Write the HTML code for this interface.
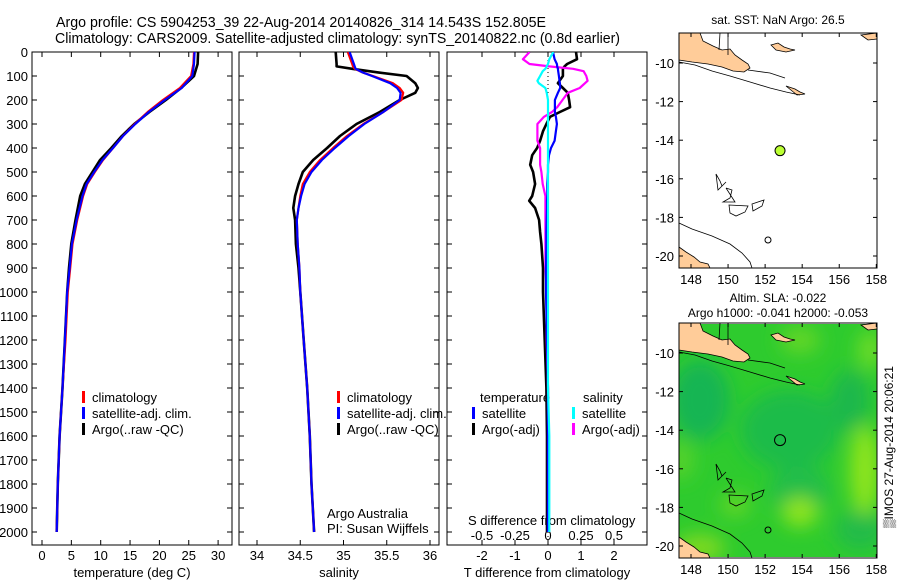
<!DOCTYPE html>
<html><head><meta charset="utf-8"><style>
body{margin:0;background:#fff;}
svg{display:block;font-family:"Liberation Sans",sans-serif;}
text{font-size:13px;fill:#000;}
</style></head>
<body>
<svg id="fig" width="900" height="580" viewBox="0 0 900 580">
<defs>
<clipPath id="c1"><rect x="32" y="52" width="200" height="493"/></clipPath>
<clipPath id="c2"><rect x="239" y="52" width="200" height="493"/></clipPath>
<clipPath id="c3"><rect x="447" y="52" width="200" height="493"/></clipPath>
<clipPath id="cm2"><rect x="679" y="324" width="198" height="233"/></clipPath>
<filter id="bl"><feGaussianBlur stdDeviation="9"/></filter>
</defs>
<text x="56" y="27" textLength="490" lengthAdjust="spacingAndGlyphs" style="font-size:14.5px">Argo profile: CS 5904253_39 22-Aug-2014 20140826_314 14.543S 152.805E</text>
<text x="55" y="43" textLength="565" lengthAdjust="spacingAndGlyphs" style="font-size:14.5px">Climatology: CARS2009. Satellite-adjusted climatology: synTS_20140822.nc (0.8d earlier)</text>
<g id="axes"></g>
<g id="series"></g>
<g id="maps"></g>
</svg>
<script>
const depthT=[0,50,100,150,200,250,300,350,400,450,500,550,600,700,800,900,1000,1200,1400,1600,1800,2000];
const tempClim=[25.9,25.8,25.4,23.5,20.6,18.0,15.8,13.8,12.1,10.4,9.0,7.7,7.0,6.0,5.2,4.8,4.4,4.0,3.5,3.0,2.7,2.5];
const tempSat=[26.0,25.9,25.6,23.8,20.9,18.2,15.9,13.8,12.1,10.3,8.9,7.6,6.9,5.9,5.1,4.7,4.3,3.9,3.5,3.0,2.7,2.5];
const tempArgo=[26.6,26.5,25.9,23.7,21.1,18.3,15.7,13.6,11.8,9.9,8.6,7.3,6.5,5.7,5.0,4.6,4.3,3.9,3.5,3.0,2.7,2.5];
const depthS=[0,50,60,70,85,100,130,150,170,200,250,300,350,400,450,500,550,600,650,700,800,900,1000,1200,1400,1600,1800,2000];
const salClim=[35.05,35.10,35.11,35.13,35.22,35.34,35.57,35.65,35.69,35.67,35.46,35.23,35.04,34.88,34.73,34.61,34.53,34.50,34.48,34.46,34.47,34.49,34.50,34.54,34.58,34.61,34.63,34.66];
const salSat=[35.07,35.12,35.13,35.14,35.22,35.33,35.54,35.62,35.66,35.65,35.46,35.24,35.06,34.90,34.75,34.63,34.55,34.51,34.48,34.46,34.47,34.49,34.50,34.54,34.58,34.61,34.63,34.66];
const salArgo=[34.91,34.92,34.92,35.10,35.40,35.73,35.83,35.86,35.83,35.65,35.42,35.15,34.96,34.81,34.65,34.53,34.48,34.44,34.42,34.44,34.45,34.48,34.50,34.54,34.58,34.61,34.63,34.66];
const depthD=[0,30,50,60,70,80,100,120,130,150,170,200,230,250,270,300,330,370,400,430,470,500,550,600,620,650,700,750,800,900,1000,1200,1400,1600,1800,2000];
const tDiffArgo=[0.85,0.88,0.58,0.5,0.45,0.45,0.45,0.35,0.3,0.45,0.6,0.64,0.67,0.36,0.06,-0.05,-0.15,-0.24,-0.33,-0.48,-0.54,-0.45,-0.39,-0.48,-0.57,-0.39,-0.27,-0.24,-0.2,-0.15,-0.15,-0.1,-0.05,-0.03,-0.03,-0.03];
const tDiffSat=[0.15,0.2,0.27,0.28,0.3,0.31,0.33,0.35,0.36,0.37,0.3,0.21,0.21,0.21,0.24,0.27,0.24,0.2,0.09,0.03,0,0,-0.02,-0.02,-0.03,-0.03,-0.04,-0.05,-0.05,-0.06,-0.06,-0.03,0,0,0,0];
const sDiffSat=[0.04,0.01,0,-0.01,-0.02,-0.04,-0.06,-0.08,-0.07,-0.02,-0.01,0,0,0,0,0,0,0,0,0,0,0,0,0,0,0,0,0,0,0,0,0,0,0.01,0.01,0.01];
const sDiffArgo=[-0.14,-0.19,-0.14,0.01,0.19,0.27,0.29,0.3,0.28,0.24,0.15,0.11,0.07,0.03,-0.03,-0.08,-0.08,-0.08,-0.06,-0.06,-0.06,-0.05,-0.04,-0.02,-0.02,-0.02,-0.02,-0.02,-0.02,-0.02,-0.01,-0.01,0,0,0,0];
const depthTicks=[0,100,200,300,400,500,600,700,800,900,1000,1100,1200,1300,1400,1500,1600,1700,1800,1900,2000];
const tempTicks=[0,5,10,15,20,25,30];
const salTicks=[34,34.5,35,35.5,36];
const tdTicks=[-2,-1,0,1,2];
const sdTickLabels=["-0.5","-0.25","0","0.25","0.5"];
const lonTicks=[148,150,152,154,156,158];
const latTicks=[-10,-12,-14,-16,-18,-20];
const argoLon=152.805, argoLat=-14.543;

const NS="http://www.w3.org/2000/svg";
const Y=d=>52+d*0.24;
const xT=t=>42+t*5.87;
const xS=s=>257+(s-34)*86.5;
const xTD=v=>548+v*33;
const xSD=v=>548+v*132;
const mx=lon=>691+(lon-148)*18.53;
const myTop=lat=>63+(-10-lat)*19.3;
const myBot=lat=>352+(-10-lat)*19.4;
function el(tag,attrs,parent){const e=document.createElementNS(NS,tag);for(const k in attrs)e.setAttribute(k,attrs[k]);parent.appendChild(e);return e;}
function txt(x,y,s,anchor,parent,size){const t=el('text',{x:x,y:y,'text-anchor':anchor||'start'},parent);if(size)t.style.fontSize=size+'px';t.textContent=s;return t;}
const axes=document.getElementById('axes'), series=document.getElementById('series'), maps=document.getElementById('maps');

const panels=[{x:32,name:'temperature'},{x:239,name:'salinity'},{x:447,name:'difference'}];
panels.forEach(p=>{
  const r=el('rect',{x:p.x,y:52,width:200,height:493,fill:'none',stroke:'#000','stroke-width':1},axes);
  
  
  depthTicks.forEach(d=>{
    el('line',{x1:p.x,x2:p.x+5,y1:Y(d),y2:Y(d),stroke:'#000'},axes);
    el('line',{x1:p.x+195,x2:p.x+200,y1:Y(d),y2:Y(d),stroke:'#000'},axes);
  });
});
depthTicks.forEach(d=>{
  const t=txt(28,Y(d)+5,String(d),'end',axes);
  
  
});
function xTicks(vals,f,labels,size){
  vals.forEach((v,i)=>{const x=f(v);
    el('line',{x1:x,x2:x,y1:52,y2:57,stroke:'#000'},axes);
    el('line',{x1:x,x2:x,y1:540,y2:545,stroke:'#000'},axes);
    const t=txt(x,560,labels?labels[i]:String(v),'middle',axes,size);
    
    
  });
}
xTicks(tempTicks,xT);
xTicks(salTicks,xS);
xTicks(tdTicks,xTD);
sdTickLabels.forEach((s,i)=>{const t=txt(xTD(tdTicks[i]),540,s,'middle',axes);
  
  });
[['temperature (deg C)',132],['salinity',339],['T difference from climatology',547]].forEach(a=>{
  const t=txt(a[1],577,a[0],'middle',axes);
  
  
});
let t0=txt(468,525,'S difference from climatology','start',axes);


t0=txt(327,518,'Argo Australia','start',axes);


t0=txt(327,533,'PI: Susan Wijffels','start',axes);


const zl=el('line',{x1:548,x2:548,y1:52,y2:545,stroke:'#000','stroke-dasharray':'1,3'},axes);



function line(depths,vals,fx,color,clip,name,w){
  const pts=depths.map((d,i)=>fx(vals[i]).toFixed(1)+','+Y(d).toFixed(1)).join(' ');
  const pl=el('polyline',{points:pts,fill:'none',stroke:color,'stroke-width':w||2.2,'clip-path':'url(#'+clip+')','stroke-linejoin':'round'},series);
  
  
}
line(depthT,tempArgo,xT,'#000','c1','temp-argo-line',2.6);
line(depthT,tempClim,xT,'#f00','c1','temp-climatology-line');
line(depthT,tempSat,xT,'#00f','c1','temp-satellite-line');
line(depthS,salArgo,xS,'#000','c2','sal-argo-line',2.6);
line(depthS,salClim,xS,'#f00','c2','sal-climatology-line');
line(depthS,salSat,xS,'#00f','c2','sal-satellite-line');
line(depthD,tDiffArgo,xTD,'#000','c3','tdiff-argo-line',2.6);
line(depthD,sDiffArgo,xSD,'#f0f','c3','sdiff-argo-line');
line(depthD,tDiffSat,xTD,'#00f','c3','tdiff-satellite-line');
line(depthD,sDiffSat,xSD,'#0ff','c3','sdiff-satellite-line');

function legend(x,y,color,label){
  const g=el('g',{},axes);
  
  
  el('rect',{x:x,y:y-11,width:3,height:12,fill:color},g);
  txt(x+10,y,label,'start',g);
}
[['#f00','climatology'],['#00f','satellite-adj. clim.'],['#000','Argo(..raw -QC)']].forEach((a,i)=>{
  legend(82,402+i*16,a[0],a[1]);legend(337,402+i*16,a[0],a[1]);
});
t0=txt(480,402,'temperature','start',axes);


t0=txt(583,402,'salinity','start',axes);


legend(472,418,'#00f','satellite');legend(472,434,'#000','Argo(-adj)');
legend(572,418,'#0ff','satellite');legend(572,434,'#f0f','Argo(-adj)');

function drawMap(dy,top,land){
  const g=el('g',{transform:'translate(0,'+dy+')'},maps);
  if(land){
    el('path',{d:'M679,33 L700,33 L703,41 L713,46 L722,50 L730,49 L735,55 L742,60 L748,64 L750,68 L744,72 L733,71 L722,67 L708,64 L692,62 L679,60 Z',fill:'#fc9',stroke:'#000','stroke-width':0.8},g);
    el('path',{d:'M679,247 L686,252 L694,257 L700,262 L708,264 L710,268 L679,268 Z',fill:'#fc9',stroke:'#000','stroke-width':0.8},g);
    el('path',{d:'M771,45 L778,43 L784,47 L790,49 L795,50 L786,52 L776,50 Z',fill:'#fc9',stroke:'#000','stroke-width':0.8},g);
    el('path',{d:'M786,86 L795,89 L800,92 L805,94 L797,95 Z',fill:'#fc9',stroke:'#000','stroke-width':0.8},g);
    el('path',{d:'M861,35 L877,33 L877,39 L868,40 Z',fill:'#fc9',stroke:'#000','stroke-width':0.8},g);
  }
  const contours=['M679,62 L695,65 L712,71 L730,76 L750,82 L770,88 L786,92 L800,95',
   'M679,223 L692,229 L712,236 L730,244 L742,253 L750,262 L752,268',
   'M716,174 L720,181 L722,186 L726,182 L718,190 L716,174',
   'M726,188 L732,190 L730,198 L723,202 L735,202 L726,188',
   'M729,205 L748,206 L745,212 L736,216 L730,213 Z',
   'M752,204 L764,200 L762,206 L753,211 Z',
   'M719,50 L720,33 M728,55 L728,33 M748,70 L770,73 L785,78'];
  contours.forEach(c=>el('path',{d:c,fill:'none',stroke:'#000','stroke-width':0.8},g));
  el('circle',{cx:768,cy:240,r:3,fill:'none',stroke:'#000'},g);
  const f=el('rect',{x:679,y:33,width:198,height:235,fill:'none',stroke:'#000'},g);
  
  
  lonTicks.forEach(l=>{const x=mx(l);
    el('line',{x1:x,x2:x,y1:33,y2:37,stroke:'#000'},g);
    el('line',{x1:x,x2:x,y1:264,y2:268,stroke:'#000'},g);
    txt(x,284,String(l),'middle',g);});
  latTicks.forEach(l=>{const y=myTop(l);
    el('line',{x1:679,x2:683,y1:y,y2:y,stroke:'#000'},g);
    el('line',{x1:873,x2:877,y1:y,y2:y,stroke:'#000'},g);
    txt(674,y+5,String(l),'end',g);});
  return g;
}
const sla=el('g',{'clip-path':'url(#cm2)'},maps);
el('rect',{x:679,y:324,width:198,height:233,fill:'#2ecb2e'},sla);
const blobs=el('g',{filter:'url(#bl)'},sla);
[[700,400,30,40,'#17b552'],[790,430,50,40,'#1cbc48'],[850,400,20,30,'#1cb84c'],[800,490,30,25,'#20bd48'],
 [860,530,25,20,'#20bb48'],[870,350,12,20,'#6ddb26'],[865,470,15,45,'#8ee41a'],[800,512,18,15,'#8ee41a'],
 [700,548,25,14,'#7ed922'],[735,505,15,12,'#62d628'],[800,340,20,14,'#62d628'],[680,460,14,20,'#55d22b']].forEach(b=>
  el('ellipse',{cx:b[0],cy:b[1],rx:b[2],ry:b[3],fill:b[4]},blobs));
drawMap(0,true,true);
drawMap(290,false,true);
const dot=el('circle',{cx:mx(argoLon),cy:myTop(argoLat),r:5,fill:'#bf3',stroke:'#000'},maps);


el('circle',{cx:mx(argoLon),cy:myBot(argoLat),r:5.5,fill:'none',stroke:'#000'},maps);
t0=txt(778,24,'sat. SST: NaN Argo: 26.5','middle',maps,12);


t0=txt(778,302,'Altim. SLA: -0.022','middle',maps,12);


t0=txt(778,317,'Argo h1000: -0.041 h2000: -0.053','middle',maps,12);


t0=txt(0,0,'\u2592IMOS 27-Aug-2014 20:06:21','middle',maps,12);
t0.setAttribute('transform','translate(893,447) rotate(-90)');


</script>
</body></html>
